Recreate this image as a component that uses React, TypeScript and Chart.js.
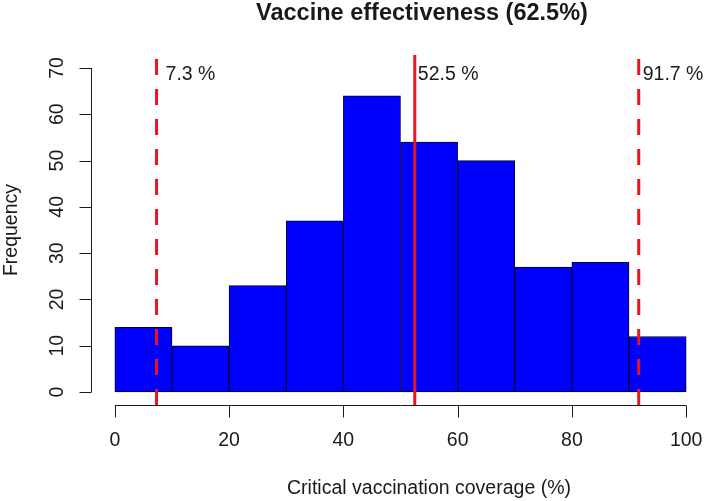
import React, { useEffect, useRef } from "react";
import { Chart, registerables } from "chart.js";

Chart.register(...registerables);

// ---- data ----
const binEdges = [0, 10, 20, 30, 40, 50, 60, 70, 80, 90, 100];
const frequencies = [14, 10, 23, 37, 64, 54, 50, 27, 28, 12];
const xTicks = [0, 20, 40, 60, 80, 100];
const yTicks = [0, 10, 20, 30, 40, 50, 60, 70];
const refValues = [7.3, 52.5, 91.7];
const refLabels = ["7.3 %", "52.5 %", "91.7 %"];
const refDashed = [true, false, true];
const titleText = "Vaccine effectiveness (62.5%)";
const xTitle = "Critical vaccination coverage (%)";
const yTitle = "Frequency";

const X_MIN = -4;
const X_MAX = 104;
const Y_MIN = -2.8;
const Y_MAX = 72.8;

const FONT = "'Liberation Sans', Arial, sans-serif";
const TEXT_COLOR = "#1a1a1a";
const RED = "#e8141e";

const rAxesPlugin = {
  id: "rAxes",
  afterDraw(chart: any) {
    const ctx = chart.ctx as CanvasRenderingContext2D;
    const xs = chart.scales.x;
    const ys = chart.scales.y;
    const area = chart.chartArea;
    ctx.save();
    ctx.strokeStyle = TEXT_COLOR;
    ctx.fillStyle = TEXT_COLOR;
    ctx.lineWidth = 1;

    // x axis
    const axY = Math.round(area.bottom) + 0.5;
    ctx.beginPath();
    ctx.moveTo(xs.getPixelForValue(xTicks[0]), axY);
    ctx.lineTo(xs.getPixelForValue(xTicks[xTicks.length - 1]), axY);
    xTicks.forEach((t) => {
      const px = Math.round(xs.getPixelForValue(t)) + 0.5;
      ctx.moveTo(px, axY);
      ctx.lineTo(px, axY + 12);
    });
    ctx.stroke();
    ctx.font = `19.5px ${FONT}`;
    ctx.textAlign = "center";
    ctx.textBaseline = "middle";
    xTicks.forEach((t) => {
      ctx.fillText(String(t), xs.getPixelForValue(t), 441);
    });

    // y axis
    const axX = Math.round(area.left) - 0.5;
    ctx.beginPath();
    ctx.moveTo(axX, ys.getPixelForValue(yTicks[0]));
    ctx.lineTo(axX, ys.getPixelForValue(yTicks[yTicks.length - 1]));
    yTicks.forEach((t) => {
      const py = Math.round(ys.getPixelForValue(t)) + 0.5;
      ctx.moveTo(axX, py);
      ctx.lineTo(axX - 12, py);
    });
    ctx.stroke();
    yTicks.forEach((t) => {
      ctx.save();
      ctx.translate(58, ys.getPixelForValue(t));
      ctx.rotate(-Math.PI / 2);
      ctx.fillText(String(t), 0, 0);
      ctx.restore();
    });

    // axis titles
    ctx.fillText(xTitle, 429, 489);
    ctx.save();
    ctx.translate(12, (area.top + area.bottom) / 2);
    ctx.rotate(-Math.PI / 2);
    ctx.fillText(yTitle, 0, 0);
    ctx.restore();

    // main title
    ctx.font = `bold 23.5px ${FONT}`;
    ctx.fillText(titleText, 422, 14);

    // reference line labels
    const nudges = [9, 3, 4];
    ctx.font = `19.5px ${FONT}`;
    ctx.textAlign = "left";
    ctx.textBaseline = "alphabetic";
    refValues.forEach((v, i) => {
      ctx.fillText(refLabels[i], xs.getPixelForValue(v) + nudges[i], 80);
    });
    ctx.restore();
  },
};

export default function App() {
  const canvasRef = useRef<HTMLCanvasElement | null>(null);

  useEffect(() => {
    const canvas = canvasRef.current;
    if (!canvas) return;

    const barData = frequencies.map((f, i) => ({
      x: (binEdges[i] + binEdges[i + 1]) / 2,
      y: f,
    }));

    const lineSets = refValues.map((v, i) => ({
      type: "line" as const,
      data: [
        { x: v, y: Y_MIN },
        { x: v, y: Y_MAX },
      ],
      borderColor: RED,
      borderWidth: 3,
      borderDash: refDashed[i] ? [16, 14] : [],
      pointRadius: 0,
      fill: false,
      tension: 0,
      order: 0,
    }));

    const chart = new Chart(canvas, {
      type: "bar",
      data: {
        datasets: [
          {
            type: "bar" as const,
            data: barData,
            backgroundColor: "#0000ff",
            borderColor: "#00002a",
            borderWidth: 1,
            borderSkipped: false,
            barPercentage: 1,
            categoryPercentage: 1,
            grouped: false,
            order: 1,
          } as any,
          ...lineSets,
        ],
      },
      options: {
        responsive: false,
        animation: false,
        events: [],
        layout: { padding: { left: 92, right: 0, top: 55, bottom: 96 } },
        plugins: {
          legend: { display: false },
          tooltip: { enabled: false },
          title: { display: false },
        },
        scales: {
          x: {
            type: "linear",
            min: X_MIN,
            max: X_MAX,
            offset: false,
            display: false,
            afterBuildTicks: (s: any) => {
              s.ticks = binEdges.map((v) => ({ value: v }));
            },
          },
          y: { type: "linear", min: Y_MIN, max: Y_MAX, display: false },
        },
      },
      plugins: [rAxesPlugin],
    } as any);

    return () => chart.destroy();
  }, []);

  return (
    <div
      style={{
        position: "fixed",
        left: 0,
        top: 0,
        width: 709,
        height: 501,
        background: "#ffffff",
      }}
    >
      <canvas ref={canvasRef} width={709} height={501} />
    </div>
  );
}
